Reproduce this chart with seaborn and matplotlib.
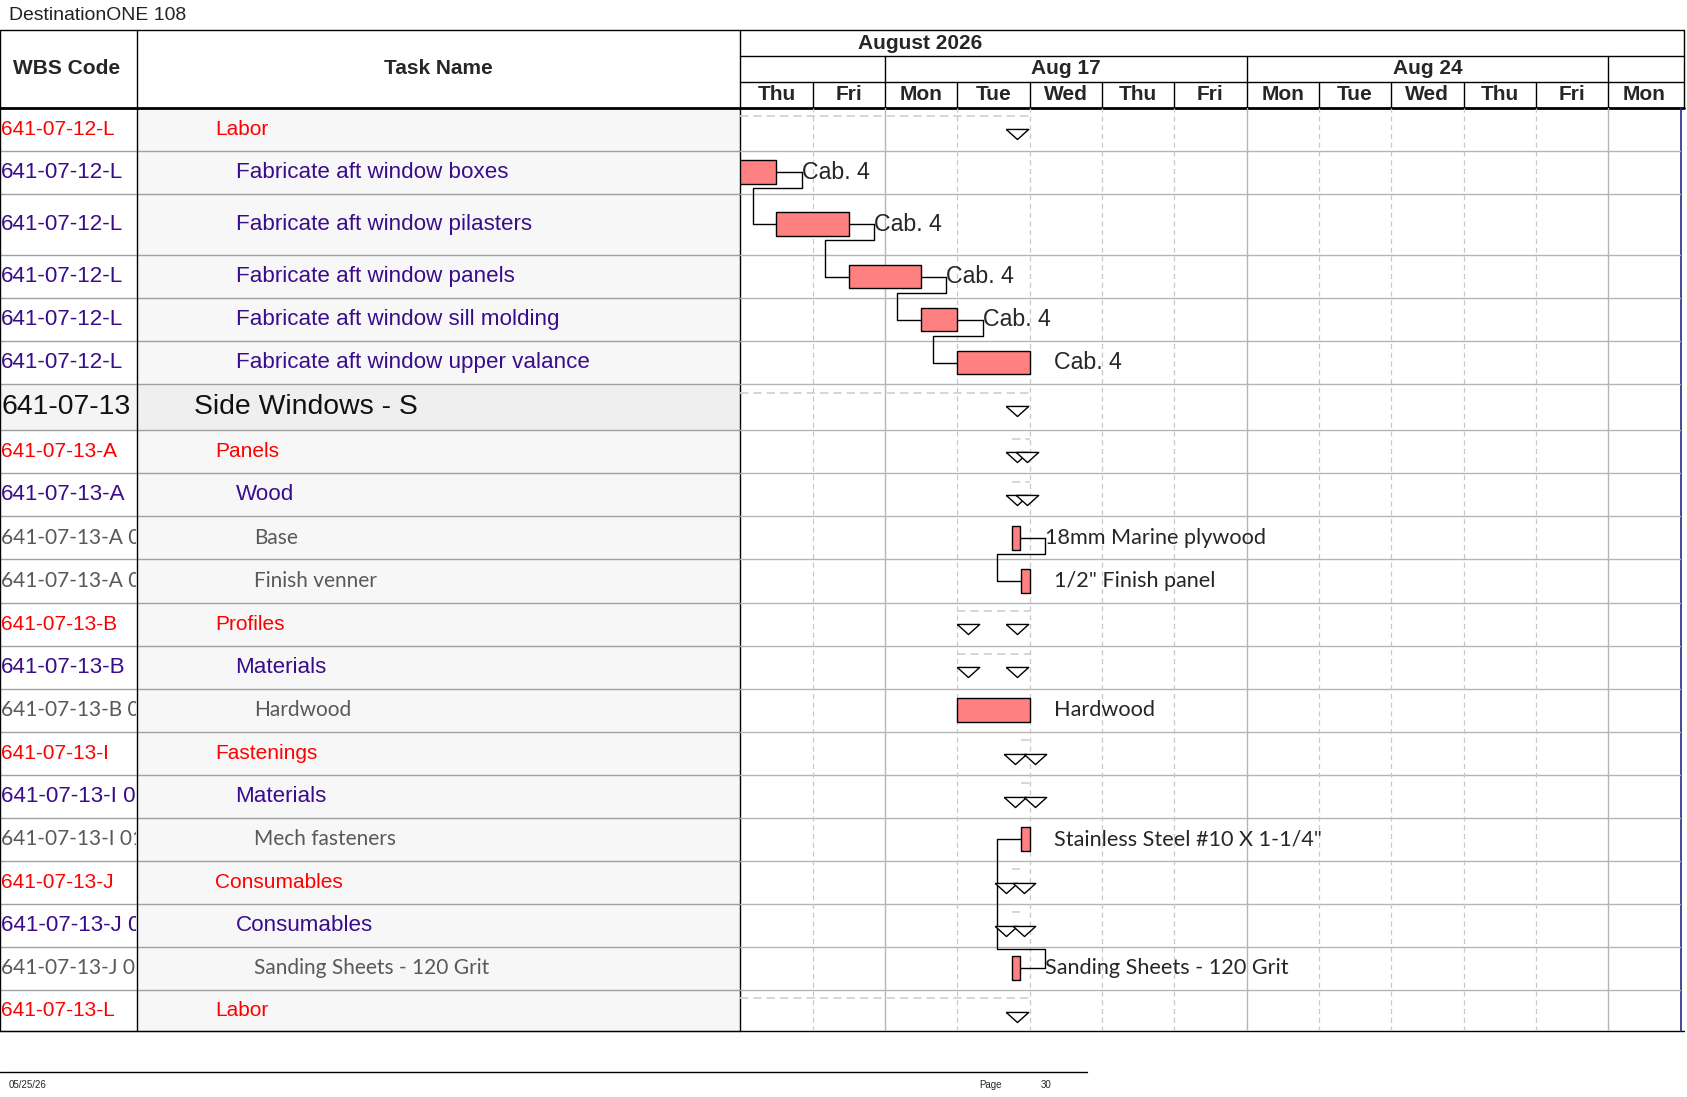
import matplotlib
matplotlib.use("Agg")
import matplotlib.pyplot as plt
import seaborn as sns
from matplotlib.patches import Rectangle

sns.set_theme(style="white")
plt.rcParams['font.family'] = ['Liberation Sans', 'DejaVu Sans']

# ---------------- data ----------------
title = "DestinationONE 108"
month_label = "August 2026"
week_labels = ["Aug 17", "Aug 24"]
day_labels = ["Thu", "Fri", "Mon", "Tue", "Wed", "Thu", "Fri", "Mon", "Tue", "Wed", "Thu", "Fri", "Mon"]
week_starts = [2, 7, 12]

wbs = ["641-07-12-L", "641-07-12-L", "641-07-12-L", "641-07-12-L", "641-07-12-L", "641-07-12-L",
       "641-07-13", "641-07-13-A", "641-07-13-A", "641-07-13-A 01", "641-07-13-A 02",
       "641-07-13-B", "641-07-13-B", "641-07-13-B 01", "641-07-13-I", "641-07-13-I 01",
       "641-07-13-I 01", "641-07-13-J", "641-07-13-J 01", "641-07-13-J 01", "641-07-13-L"]
task_names = ["Labor", "Fabricate aft window boxes", "Fabricate aft window pilasters",
              "Fabricate aft window panels", "Fabricate aft window sill molding",
              "Fabricate aft window upper valance", "Side Windows - S", "Panels", "Wood", "Base",
              "Finish venner", "Profiles", "Materials", "Hardwood", "Fastenings", "Materials",
              "Mech fasteners", "Consumables", "Consumables", "Sanding Sheets - 120 Grit", "Labor"]
levels = [1, 2, 2, 2, 2, 2, 0, 1, 2, 3, 3, 1, 2, 3, 1, 2, 3, 1, 2, 3, 1]

# task bars (row, start day, duration days, label)
bar_rows = [1, 2, 3, 4, 5, 9, 10, 13, 16, 19]
bar_starts = [0.0, 0.5, 1.5, 2.5, 3.0, 3.76, 3.88, 3.0, 3.88, 3.76]
bar_durs = [0.5, 1.0, 1.0, 0.5, 1.0, 0.11, 0.12, 1.0, 0.12, 0.11]
bar_labels = ["Cab. 4", "Cab. 4", "Cab. 4", "Cab. 4", "Cab. 4", "18mm Marine plywood",
              "1/2\" Finish panel", "Hardwood", "Stainless Steel #10 X 1-1/4\"", "Sanding Sheets - 120 Grit"]
bar_label_lined = [True, True, True, True, False, True, False, False, False, True]

# summary milestones (row, day)
ms_rows = [0, 6, 7, 7, 8, 8, 11, 11, 12, 12, 14, 14, 15, 15, 17, 17, 18, 18, 20]
ms_days = [3.82, 3.82, 3.82, 3.97, 3.82, 3.97, 3.15, 3.82, 3.15, 3.82, 3.80, 4.07, 3.80, 4.07,
           3.68, 3.93, 3.68, 3.93, 3.82]
# summary spans (row, start, end)
sum_rows = [0, 6, 7, 8, 11, 12, 14, 15, 17, 18, 20]
sum_start = [0.0, 0.0, 3.76, 3.76, 3.0, 3.0, 3.88, 3.88, 3.76, 3.76, 0.0]
sum_end = [4.0, 4.0, 4.0, 4.0, 4.0, 4.0, 4.0, 4.0, 3.87, 3.87, 4.0]

# ---------------- layout (reference px, scaled) ----------------
W0, H0 = 1568.0, 1097 * 1568.0 / 1687
S = 1687 / 1568.0
bounds = [100, 140, 180, 237, 277, 317, 357, 400, 440, 480, 520, 560, 600, 640, 680,
          720, 760, 800, 840, 880, 920, 958]
centers = [(bounds[i] + bounds[i + 1]) / 2 for i in range(len(bounds) - 1)]
GX0, GX1 = 688, 1562
C1 = 127

fig = plt.figure(figsize=(16.87, 10.97), dpi=100)
ax0 = fig.add_axes([0, 0, 1, 1])
ax0.set_xlim(0, W0); ax0.set_ylim(H0, 0); ax0.axis("off")

def fs(p):
    return p * S

ax0.text(8, 14, title, fontsize=fs(13), va="center", ha="left", color="#222222")

for i in range(len(task_names)):
    y0, y1 = bounds[i], bounds[i + 1]
    col = "#EFEFEF" if levels[i] == 0 else "#F7F7F7"
    ax0.add_patch(Rectangle((C1, y0), GX0 - C1, y1 - y0, color=col, zorder=0, lw=0))
    if levels[i] == 0:
        ax0.add_patch(Rectangle((0, y0), C1, y1 - y0, color="#F4F4F4", zorder=0, lw=0))
    ax0.plot([0, GX0], [y1, y1], color="#A0A0A0", lw=1, zorder=1)

styles = {
    0: dict(color="#111111", size=19, x=180, fam=['Liberation Sans', 'DejaVu Sans']),
    1: dict(color="#FF0000", size=14, x=200, fam=['Liberation Sans', 'DejaVu Sans']),
    2: dict(color="#3A0C8C", size=15, x=219, fam=['Liberation Sans', 'DejaVu Sans']),
    3: dict(color="#595959", size=14, x=236, fam=['Lato', 'DejaVu Sans']),
}
# WBS column axes (clips overflowing codes)
axw = fig.add_axes([0, 1 - 958 / H0, (C1 - 1) / W0, (958 - 100) / H0])
axw.set_xlim(0, C1 - 1); axw.set_ylim(958, 100); axw.axis("off"); axw.patch.set_alpha(0)
for i, (w, n, lv) in enumerate(zip(wbs, task_names, levels)):
    st = styles[lv]
    axw.text(1, centers[i], w, fontsize=fs(st["size"]), color=st["color"], family=st["fam"],
             va="center", ha="left", clip_on=True)
    ax0.text(st["x"], centers[i], n, fontsize=fs(st["size"]), color=st["color"], family=st["fam"],
             va="center", ha="left")

# header
ax0.plot([0, 1565], [28, 28], color="black", lw=1)
ax0.plot([0, 1565], [100, 100], color="black", lw=2)
ax0.plot([0, 1565], [958, 958], color="black", lw=1)
ax0.plot([0, 0], [28, 958], color="black", lw=1)
ax0.plot([C1, C1], [28, 958], color="black", lw=1)
ax0.plot([GX0, GX0], [28, 958], color="black", lw=1)
ax0.plot([1565, 1565], [28, 100], color="black", lw=1)
ax0.plot([GX1, GX1], [100, 958], color="#1F2A8C", lw=1.2)
ax0.text(62, 64, "WBS Code", fontsize=fs(14), weight="bold", ha="center", va="center")
ax0.text(407, 64, "Task Name", fontsize=fs(14), weight="bold", ha="center", va="center")
ax0.plot([GX0, 1565], [52, 52], color="black", lw=1)
ax0.plot([GX0, 1565], [76, 76], color="black", lw=1)
DW = (GX1 - GX0) / len(day_labels)
ax0.text(855, 40, month_label, fontsize=fs(14), weight="bold", ha="center", va="center")
for k in week_starts:
    xk = GX0 + k * DW
    ax0.plot([xk, xk], [52, 76], color="black", lw=1)
for wl, k in zip(week_labels, week_starts[:2]):
    ax0.text(GX0 + (k + 2.5) * DW, 64, wl, fontsize=fs(14), weight="bold", ha="center", va="center")
for d, lab in enumerate(day_labels):
    xd = GX0 + d * DW
    if d > 0:
        ax0.plot([xd, xd], [76, 100], color="black", lw=1)
    ax0.text(xd + DW / 2, 88, lab, fontsize=fs(14), weight="bold", ha="center", va="center")

# footer
ax0.plot([0, 1010], [996, 996], color="black", lw=1)
ax0.text(8, 1008, "05/25/26", fontsize=fs(6.5), va="center")
ax0.text(910, 1008, "Page", fontsize=fs(6.5), va="center")
ax0.text(967, 1008, "30", fontsize=fs(6.5), va="center")

# ---------------- gantt axes ----------------
ax = fig.add_axes([GX0 / W0, 1 - 958 / H0, (GX1 - GX0) / W0, (958 - 100) / H0])
ax.set_xlim(0, len(day_labels)); ax.set_ylim(958, 100)
ax.axis("off"); ax.patch.set_alpha(0)

for b in bounds[1:-1]:
    ax.axhline(b, color="#B5B5B5", lw=1, zorder=1)
for d in range(1, len(day_labels)):
    if d in week_starts:
        ax.axvline(d, color="#B5B5B5", lw=1, zorder=1)
    else:
        ax.axvline(d, color="#C8C8C8", lw=0.9, ls=(0, (4, 3)), zorder=1)

for r, a, b in zip(sum_rows, sum_start, sum_end):
    ax.plot([a, b], [bounds[r] + 8] * 2, color="#CFCFCF", lw=1.2, ls=(0, (5, 3)), zorder=2)

ax.barh([centers[r] for r in bar_rows], bar_durs, left=bar_starts, height=22,
        color="#FF8080", edgecolor="black", linewidth=1, zorder=4)

LOFF = 0.35
for k, (r, s0, d, lab, lined) in enumerate(zip(bar_rows, bar_starts, bar_durs, bar_labels, bar_label_lined)):
    e = s0 + d
    fam = ['Liberation Sans', 'DejaVu Sans'] if lab.startswith("Cab") else ['Lato', 'DejaVu Sans']
    size = 15.5 if lab.startswith("Cab") else 14.5
    if lined:
        ax.plot([e, e + LOFF], [centers[r]] * 2, color="black", lw=1, zorder=3)
        ax.text(e + LOFF, centers[r], lab, fontsize=fs(size), family=fam, va="center", ha="left")
    else:
        ax.text(e + 0.34, centers[r], lab, fontsize=fs(size), family=fam, va="center", ha="left")

chains = [(0, 1), (1, 2), (2, 3), (3, 4), (5, 6)]
for i, j in chains:
    ri, rj = bar_rows[i], bar_rows[j]
    lx = bar_starts[i] + bar_durs[i] + LOFF
    yb = centers[ri] + 15
    xl = bar_starts[j] - 0.33
    ax.plot([lx, lx, xl, xl, bar_starts[j]], [centers[ri], yb, yb, centers[rj], centers[rj]],
            color="black", lw=1, zorder=3)
m, sd = 8, 9
xl = 3.55
ytop = bounds[bar_rows[sd]] + 2
lx = bar_starts[sd] + bar_durs[sd] + LOFF
ax.plot([bar_starts[m], xl, xl, lx, lx], [centers[bar_rows[m]], centers[bar_rows[m]], ytop, ytop,
        centers[bar_rows[sd]]], color="black", lw=1, zorder=3)

tri = [(-1.0, 0.45), (1.0, 0.45), (0.0, -0.45), (-1.0, 0.45)]
ax.scatter(ms_days, [bounds[r] + 25 for r in ms_rows], marker=tri, s=260,
           facecolor="white", edgecolor="black", linewidth=1, zorder=5)

fig.savefig("out.png", dpi=100)
